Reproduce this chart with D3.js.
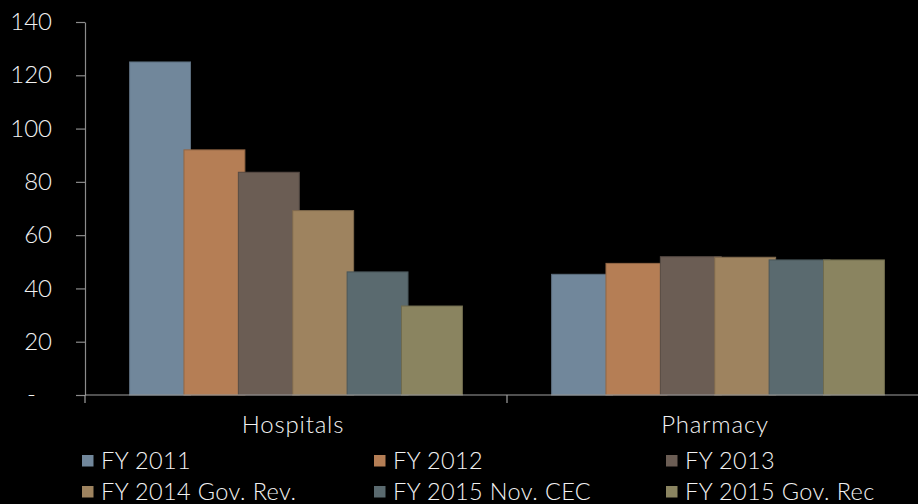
<!DOCTYPE html>
<html>
<head>
<meta charset="utf-8">
<script src="https://cdn.jsdelivr.net/npm/d3@7"></script>
<style>
  html, body { margin: 0; padding: 0; background: #000; }
  svg { display: block; }
  text { font-family: Lato, "Open Sans", sans-serif; font-weight: 300; fill: #f2f2f2; }
</style>
</head>
<body>
<svg id="chart" width="918" height="504"></svg>
<script>
const categories = ["Hospitals", "Pharmacy"];
const series = ["FY 2011", "FY 2012", "FY 2013", "FY 2014 Gov. Rev.", "FY 2015 Nov. CEC", "FY 2015 Gov. Rec"];
const hospitalsValues = [125, 92, 83.6, 69.2, 46.2, 33.4];
const pharmacyValues = [45.3, 49.4, 51.9, 51.7, 50.7, 50.7];
const seriesColors = ["#71879b", "#b57e55", "#6b5d54", "#9e835f", "#5a6a6f", "#8a8460"];
const yTicks = [0, 20, 40, 60, 80, 100, 120, 140];
const yTickLabels = ["-", "20", "40", "60", "80", "100", "120", "140"];

const valuesByCategory = { "Hospitals": hospitalsValues, "Pharmacy": pharmacyValues };

const svg = d3.select("#chart");
const x0 = d3.scaleBand().domain(categories).range([85, 929]).padding(0);
const x1 = d3.scaleBand().domain(series).range([0, x0.bandwidth()]).paddingInner(0).paddingOuter(0.88);
const y = d3.scaleLinear().domain([0, 140]).range([395, 22]);
const color = d3.scaleOrdinal().domain(series).range(seriesColors);
const barW = x1.step() * 1.12;

// bars
categories.forEach(cat => {
  const g = svg.append("g");
  series.forEach((s, i) => {
    const v = valuesByCategory[cat][i];
    const c = color(s);
    g.append("rect")
      .attr("x", x0(cat) + x1(s) + x1.bandwidth() / 2 - barW / 2)
      .attr("y", y(v))
      .attr("width", barW)
      .attr("height", y(0) - y(v))
      .attr("fill", c)
      .attr("stroke", d3.color(c).darker(0.6))
      .attr("stroke-width", 1);
  });
});

// y axis
const yAxis = d3.axisLeft(y)
  .tickValues(yTicks)
  .tickSize(9)
  .tickSizeOuter(0)
  .tickPadding(24)
  .tickFormat((d, i) => yTickLabels[i]);
const ya = svg.append("g").attr("transform", "translate(85,0)").call(yAxis);
ya.select(".domain").attr("stroke", "#8c8c8c").attr("stroke-width", 1.2);
ya.selectAll(".tick line").attr("stroke", "#8c8c8c").attr("stroke-width", 1.2);
ya.selectAll(".tick text")
  .style("font-family", "Lato, sans-serif")
  .style("font-weight", 300)
  .attr("font-size", 24)
  .attr("fill", "#f2f2f2")
  .attr("dx", (d) => d === 0 ? -16 : 0);

// x axis
const xa = svg.append("g");
xa.append("line")
  .attr("x1", 85).attr("x2", 918)
  .attr("y1", y(0)).attr("y2", y(0))
  .attr("stroke", "#a0a0a0").attr("stroke-width", 1.2);
categories.forEach(cat => {
  xa.append("line")
    .attr("x1", x0(cat)).attr("x2", x0(cat))
    .attr("y1", y(0)).attr("y2", y(0) + 8)
    .attr("stroke", "#a0a0a0").attr("stroke-width", 1.2);
  xa.append("text")
    .attr("x", x0(cat) + x0.bandwidth() / 2 - 3)
    .attr("y", y(0) + 38)
    .attr("text-anchor", "middle")
    .attr("font-size", 24)
    .attr("letter-spacing", 0.8)
    .text(cat);
});

// legend
const legCols = [82, 374, 666];
const legRows = [455, 486];
series.forEach((s, i) => {
  const cx = legCols[i % 3];
  const cy = legRows[Math.floor(i / 3)];
  svg.append("rect")
    .attr("x", cx).attr("y", cy)
    .attr("width", 11.5).attr("height", 11.5)
    .attr("fill", color(s));
  svg.append("text")
    .attr("x", cx + 19)
    .attr("y", cy + 14)
    .attr("font-size", 23.5)
    .attr("letter-spacing", 0.4)
    .text(s);
});
</script>
</body>
</html>
